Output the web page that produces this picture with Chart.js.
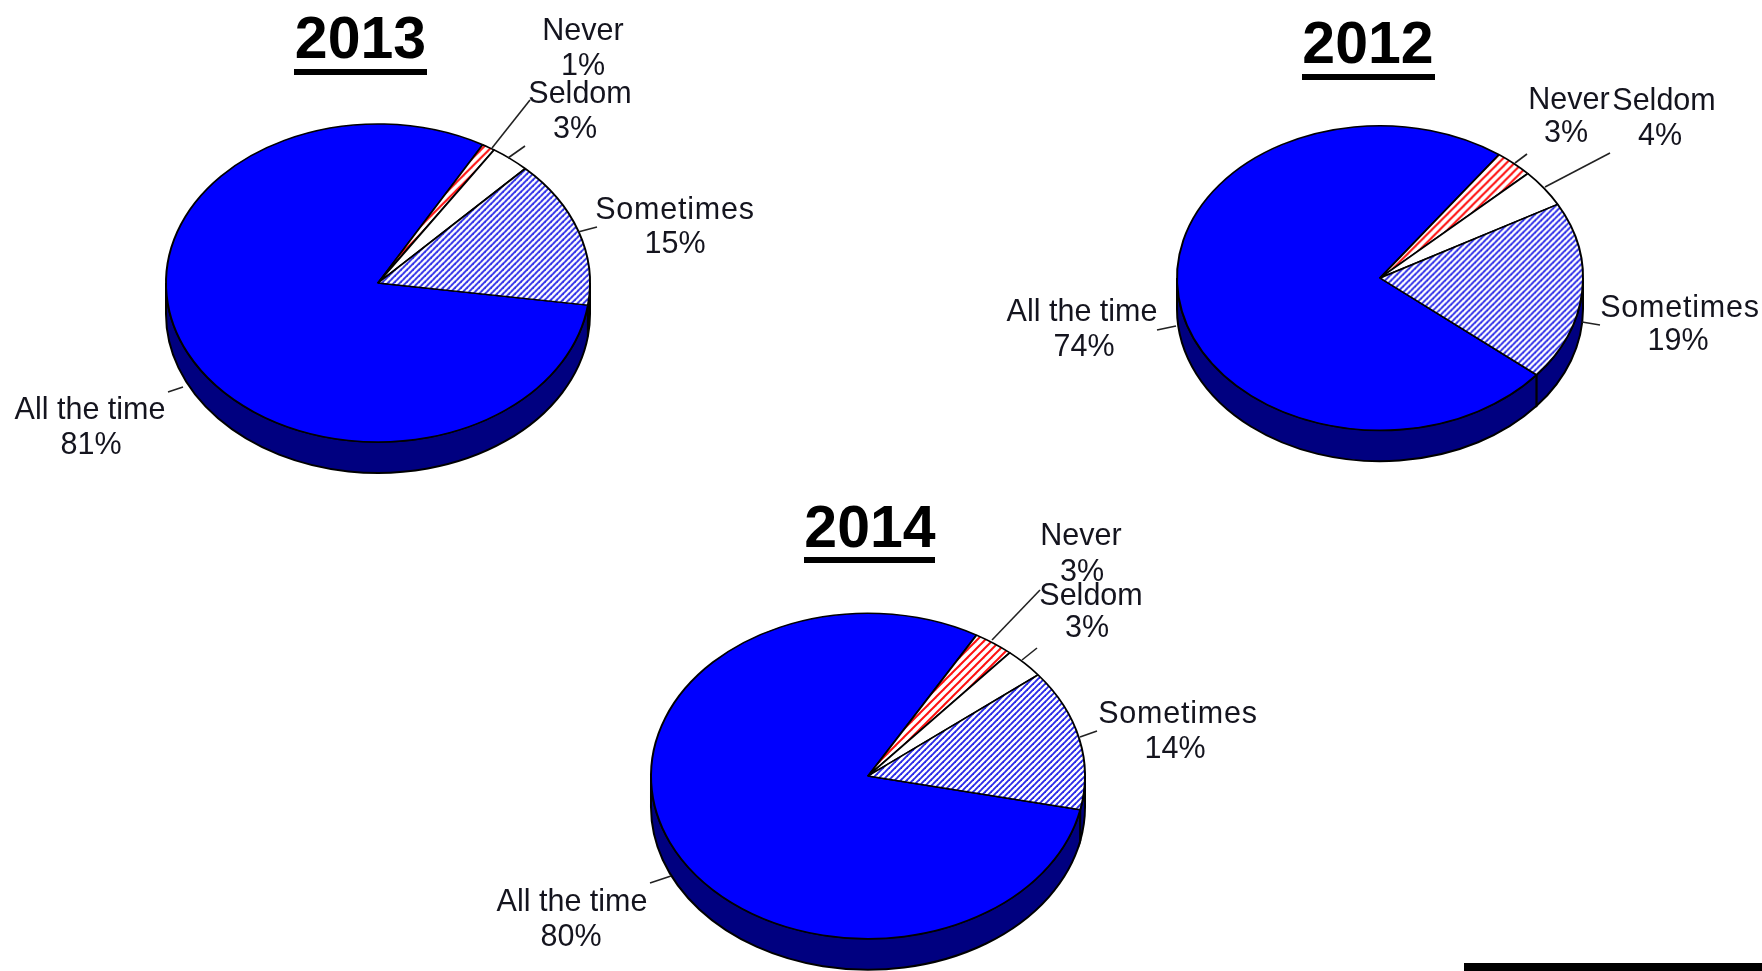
<!DOCTYPE html>
<html>
<head>
<meta charset="utf-8">
<title>Pie charts 2012-2014</title>
<script src="https://cdn.jsdelivr.net/npm/chart.js@4"></script>
<style>
    html, body { margin: 0; padding: 0; background: #fff; overflow: hidden; }
    #page { position: relative; width: 1762px; height: 971px; overflow: hidden; background: #fff; }
    #page canvas { position: absolute; }
    #bar { position: absolute; left: 1464px; top: 963px; width: 298px; height: 8px; background: #000; }
</style>
</head>
<body>
<div id="page">
    <canvas id="pie2013"></canvas>
    <canvas id="pie2012"></canvas>
    <canvas id="pie2014"></canvas>
    <div id="bar"></div>
</div>
<script>
const categories = ['All the time', 'Never', 'Seldom', 'Sometimes'];
const values2013 = [81, 1, 3, 15];
const values2012 = [74, 3, 4, 19];
const values2014 = [80, 3, 3, 14];

const FONT = '"Liberation Sans", Arial, sans-serif';
const TILT = 0.75; // ellipse height / width
const DEPTH = 31;

// hatch tile, stretched in y so it comes out at 45 degrees after the tilt
function hatch(ctx, color, size, width) {
    const tile = document.createElement('canvas');
    tile.width = size;
    tile.height = size;
    const t = tile.getContext('2d');
    t.fillStyle = '#fff';
    t.fillRect(0, 0, size, size);
    t.strokeStyle = color;
    t.lineWidth = width;
    [-size, 0, size].forEach(function (d) {
        t.beginPath();
        t.moveTo(d - 1, size + 1);
        t.lineTo(d + size + 1, -1);
        t.stroke();
    });
    const pattern = ctx.createPattern(tile, 'repeat');
    pattern.setTransform(new DOMMatrix().scale(1, 1 / TILT));
    return pattern;
}

// side wall of the disc, built from the arc elements of the chart
function drawRim(chart) {
    const ctx = chart.ctx;
    const arcs = chart.getDatasetMeta(0).data;
    ctx.save();
    ctx.fillStyle = '#000080';
    ctx.strokeStyle = '#000';
    ctx.lineWidth = 2;
    arcs.forEach(function (arc) {
        [0, 2 * Math.PI, -2 * Math.PI].forEach(function (turn) {
            const a = Math.max(arc.startAngle, turn);
            const b = Math.min(arc.endAngle, turn + Math.PI);
            if (b <= a) return;
            const r = arc.outerRadius;
            ctx.beginPath();
            ctx.ellipse(arc.x, arc.y + DEPTH, r, r * TILT, 0, a, b);
            ctx.ellipse(arc.x, arc.y, r, r * TILT, 0, b, a, true);
            ctx.closePath();
            ctx.fill();
            ctx.stroke();
        });
    });
    ctx.restore();
}

const tiltPlugin = {
    id: 'tilt',
    beforeDatasetsDraw(chart) {
        const ctx = chart.ctx;
        const arc = chart.getDatasetMeta(0).data[0];
        drawRim(chart);
        ctx.save();
        ctx.translate(arc.x, arc.y);
        ctx.scale(1, TILT);
        ctx.translate(-arc.x, -arc.y);
    },
    afterDatasetsDraw(chart) {
        chart.ctx.restore();
    }
};

// year heading and the hand placed data labels with their leader lines
const notesPlugin = {
    id: 'notes',
    afterDraw(chart, args, opts) {
        const ctx = chart.ctx;
        const dx = opts.box[0], dy = opts.box[1];
        const values = chart.data.datasets[0].data;
        ctx.save();
        ctx.fillStyle = '#000';
        ctx.textAlign = 'center';
        ctx.textBaseline = 'middle';
        ctx.font = 'bold 59px ' + FONT;
        ctx.fillText(opts.year, opts.head[0] - dx, opts.head[1] - dy);
        ctx.fillRect(opts.rule[0] - dx, opts.rule[1] - dy, opts.rule[2], 6);

        ctx.font = '30.5px ' + FONT;
        ctx.fillStyle = '#14141e';
        chart.data.labels.forEach(function (name, i) {
            const s = opts.spots[i];
            ctx.letterSpacing = name === 'Sometimes' ? '0.8px' : '0px';
            ctx.fillText(name, s[0] - dx, s[1] - dy);
            ctx.letterSpacing = '0px';
            ctx.fillText(values[i] + '%', s[2] - dx, s[3] - dy);
        });

        ctx.strokeStyle = '#222';
        ctx.lineWidth = 1.6;
        opts.leaders.forEach(function (l) {
            ctx.beginPath();
            ctx.moveTo(l[0] - dx, l[1] - dy);
            ctx.lineTo(l[2] - dx, l[3] - dy);
            ctx.stroke();
        });
        ctx.restore();
    }
};

function makePie(id, values, layout) {
    const el = document.getElementById(id);
    const box = layout.box, c = layout.center, r = layout.radius;
    el.style.left = box[0] + 'px';
    el.style.top = box[1] + 'px';
    el.width = box[2];
    el.height = box[3];
    const ctx = el.getContext('2d');
    new Chart(ctx, {
        type: 'pie',
        data: {
            labels: categories,
            datasets: [{
                data: values,
                backgroundColor: ['#0000ff', hatch(ctx, '#ff1010', 8, 2), '#ffffff', hatch(ctx, '#2a2ae8', 6, 1.9)],
                borderColor: '#000',
                borderWidth: 2,
                clip: false
            }]
        },
        options: {
            responsive: false,
            animation: false,
            events: [],
            rotation: layout.rotation,
            layout: {
                padding: {
                    left: c[0] - r - box[0],
                    top: c[1] - r - box[1],
                    right: box[0] + box[2] - c[0] - r,
                    bottom: box[1] + box[3] - c[1] - r
                }
            },
            plugins: {
                legend: { display: false },
                tooltip: { enabled: false },
                notes: {
                    box: box,
                    year: layout.year,
                    head: layout.head,
                    rule: layout.rule,
                    spots: layout.spots,
                    leaders: layout.leaders
                }
            }
        },
        plugins: [tiltPlugin, notesPlugin]
    });
}

makePie('pie2013', values2013, {
    year: '2013',
    box: [0, 0, 800, 500],
    center: [378, 283],
    radius: 213,
    rotation: 98,
    head: [360.5, 42],
    rule: [294, 69, 133],
    spots: [[90, 411, 91, 446], [583, 32, 583, 67], [580, 95, 575, 130], [675, 211, 675, 245]],
    leaders: [[168, 392, 183, 387], [530, 100, 492, 148], [525, 146, 508, 158], [597, 227, 578, 232]]
});

makePie('pie2012', values2012, {
    year: '2012',
    box: [960, 0, 802, 500],
    center: [1380, 278],
    radius: 204,
    rotation: 129.5,
    head: [1368, 47],
    rule: [1302, 74, 133],
    spots: [[1082, 313, 1084, 348], [1569, 101, 1566, 134], [1664, 102, 1660, 137], [1680, 309, 1678, 342]],
    leaders: [[1157, 330, 1176, 326], [1527, 154, 1515, 163], [1610, 153, 1545, 187], [1600, 325, 1582, 322]]
});

makePie('pie2014', values2014, {
    year: '2014',
    box: [440, 500, 860, 510],
    center: [868, 776],
    radius: 218,
    rotation: 102,
    head: [870, 531],
    rule: [804, 557, 131],
    spots: [[572, 903, 571, 938], [1081, 537, 1082, 573], [1091, 597, 1087, 629], [1178, 715, 1175, 750]],
    leaders: [[650, 883, 671, 876], [1040, 590, 992, 640], [1037, 648, 1022, 660], [1097, 731, 1080, 737]]
});
</script>
</body>
</html>
